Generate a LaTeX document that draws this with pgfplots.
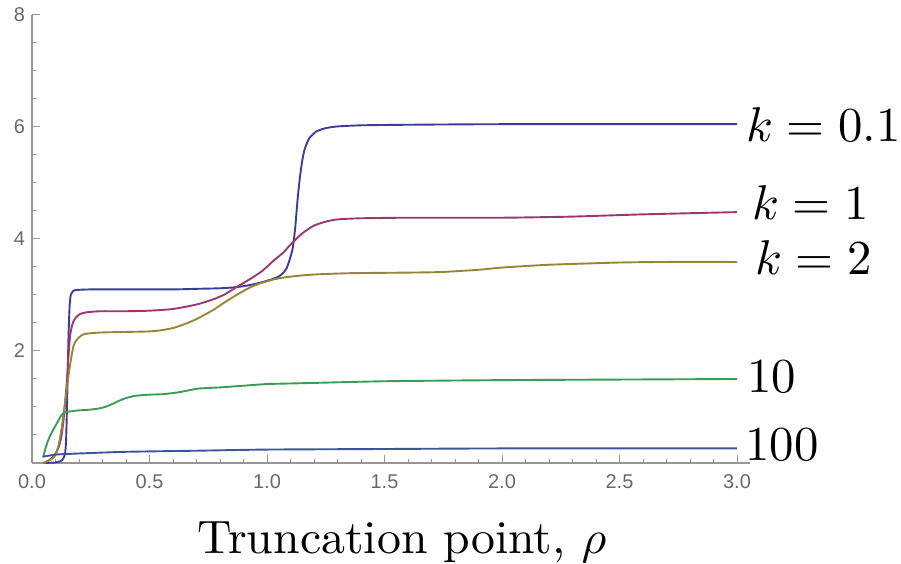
\documentclass[border=0pt]{standalone}
\usepackage{fontspec}
\usepackage{graphicx}
\usepackage{pgfplots}
\pgfplotsset{compat=1.18}
\newfontfamily\ticksf{Liberation Sans}

\definecolor{axgray}{RGB}{150,150,150}
\definecolor{tkgray}{RGB}{105,105,105}
\definecolor{ckA}{RGB}{60,60,155}
\definecolor{ckB}{RGB}{155,55,110}
\definecolor{ckC}{RGB}{150,135,55}
\definecolor{ckD}{RGB}{60,155,85}
\definecolor{ckE}{RGB}{60,85,160}

\newcommand{\curvelabel}[1]{\scalebox{2.45}{#1}}

\begin{document}
\begin{tikzpicture}
\begin{axis}[
    at={(0,0)}, anchor=origin,
    x=117.5bp, y=28bp,
    xmin=0, xmax=3.055, ymin=0, ymax=8,
    axis x line=bottom, axis y line=left,
    axis line style={-, draw=axgray, line width=0.6bp},
    tick align=inside,
    major tick length=4bp, minor tick length=2bp,
    every tick/.style={draw=axgray, line width=0.5bp},
    xtick={0,0.5,1,1.5,2,2.5,3},
    xticklabels={0.0,0.5,1.0,1.5,2.0,2.5,3.0},
    minor xtick={0.1,0.2,0.3,0.4,0.6,0.7,0.8,0.9,1.1,1.2,1.3,1.4,1.6,1.7,1.8,1.9,2.1,2.2,2.3,2.4,2.6,2.7,2.8,2.9},
    ytick={2,4,6,8},
    yticklabels={2,4,6,8},
    minor ytick={0.5,1,1.5,2.5,3,3.5,4.5,5,5.5,6.5,7,7.5},
    ticklabel style={font=\ticksf\fontsize{10}{12}\selectfont, text=tkgray},
    xticklabel style={yshift=-2.5bp},
    clip=false,
    every axis plot/.append style={line width=0.95bp, mark=none, smooth, tension=0.35},
]
% k = 0.1
\addplot[ckA] coordinates {
 (0.05,0.0)(0.08,0.005)(0.10,0.01)(0.12,0.03)(0.13,0.06)(0.14,0.15)(0.145,0.4)
 (0.15,1.2)(0.155,2.2)(0.16,2.8)(0.165,3.0)(0.175,3.07)(0.19,3.09)(0.25,3.10)
 (0.4,3.10)(0.6,3.10)(0.7,3.11)(0.8,3.12)(0.87,3.14)(0.93,3.18)(0.98,3.23)
 (1.02,3.28)(1.05,3.33)(1.07,3.40)(1.085,3.49)(1.10,3.68)(1.11,3.85)(1.12,4.2)
 (1.13,4.7)(1.14,5.1)(1.15,5.4)(1.16,5.6)(1.18,5.8)(1.21,5.92)(1.25,5.98)
 (1.3,6.01)(1.4,6.03)(1.6,6.04)(2.0,6.05)(3.0,6.05)};
% k = 1
\addplot[ckB] coordinates {
 (0.05,0.0)(0.08,0.07)(0.10,0.17)(0.115,0.3)(0.125,0.47)(0.135,0.8)(0.148,1.43)
 (0.155,1.9)(0.162,2.27)(0.17,2.45)(0.18,2.56)(0.2,2.65)(0.23,2.69)(0.29,2.71)
 (0.4,2.71)(0.5,2.72)(0.6,2.75)(0.7,2.83)(0.77,2.92)(0.82,3.01)(0.87,3.14)
 (0.93,3.29)(0.98,3.43)(1.03,3.62)(1.07,3.76)(1.1,3.9)(1.15,4.1)(1.2,4.24)
 (1.25,4.31)(1.3,4.35)(1.4,4.37)(1.6,4.38)(2.0,4.38)(2.3,4.40)(2.6,4.44)(3.0,4.48)};
% k = 2
\addplot[ckC] coordinates {
 (0.05,0.0)(0.08,0.06)(0.10,0.14)(0.115,0.35)(0.125,0.59)(0.135,0.9)(0.148,1.31)
 (0.16,1.7)(0.176,2.08)(0.19,2.2)(0.22,2.3)(0.29,2.33)(0.4,2.34)(0.5,2.35)
 (0.55,2.37)(0.6,2.41)(0.65,2.48)(0.7,2.57)(0.77,2.73)(0.82,2.87)(0.87,3.00)
 (0.93,3.14)(0.98,3.22)(1.03,3.28)(1.085,3.32)(1.15,3.35)(1.22,3.37)(1.36,3.39)
 (1.6,3.40)(1.74,3.41)(1.9,3.45)(2.0,3.49)(2.2,3.54)(2.5,3.58)(2.7,3.59)(3.0,3.59)};
% k = 10
\addplot[ckD] coordinates {
 (0.048,0.11)(0.06,0.3)(0.075,0.47)(0.09,0.59)(0.11,0.74)(0.126,0.86)(0.145,0.91)
 (0.16,0.92)(0.2,0.94)(0.24,0.95)(0.28,0.97)(0.31,1.0)(0.34,1.05)(0.37,1.11)
 (0.40,1.16)(0.44,1.20)(0.5,1.22)(0.56,1.23)(0.62,1.26)(0.67,1.30)(0.71,1.33)
 (0.8,1.35)(0.9,1.38)(1.0,1.41)(1.1,1.42)(1.2,1.43)(1.5,1.46)(2.0,1.48)(2.5,1.49)(3.0,1.50)};
% k = 100
\addplot[ckE] coordinates {
 (0.045,0.11)(0.1,0.15)(0.2,0.17)(0.4,0.2)(0.71,0.22)(1.0,0.24)(1.5,0.25)
 (2.0,0.26)(3.0,0.26)};
\end{axis}
\node[anchor=base west, inner sep=0] at (357bp,160.6bp) {\curvelabel{$k=0.1$}};
\node[anchor=base west, inner sep=0] at (360bp,121.5bp) {\curvelabel{$k=1$}};
\node[anchor=base west, inner sep=0] at (361.5bp,94bp) {\curvelabel{$k=2$}};
\node[anchor=base west, inner sep=0] at (357.5bp,35.5bp) {\curvelabel{10}};
\node[anchor=base west, inner sep=0] at (356.5bp,1.5bp) {\curvelabel{100}};
\node[anchor=base, inner sep=0] at (185bp,-45bp)
  {\scalebox{2.4}[2.35]{Truncation point, $\rho$}};
\pgfresetboundingbox
\path (-16bp,-50.5bp) rectangle (434.5bp,231.5bp);
\end{tikzpicture}
\end{document}
